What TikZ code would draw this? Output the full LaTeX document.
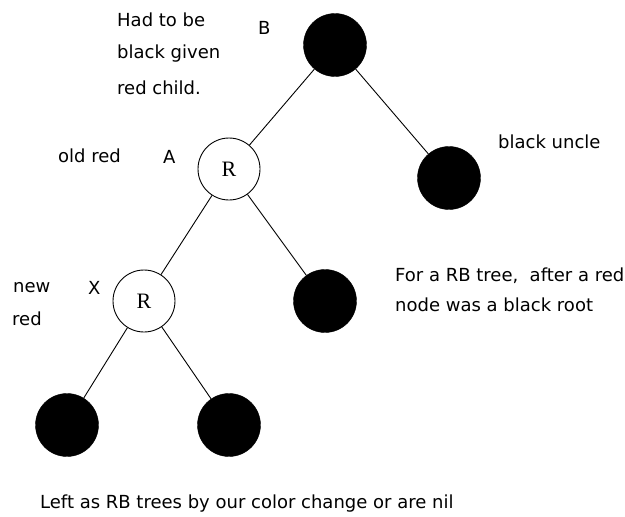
\documentclass[tikz,border=0pt]{standalone}
\usepackage{fontspec}
\setmainfont{DejaVu Sans}
\newfontfamily\rfont{Liberation Serif}
\begin{document}
\begin{tikzpicture}[x=1pt,y=-1pt,
  blacknode/.style={circle,fill=black,draw=black,minimum size=63pt,inner sep=0pt},
  rednode/.style={circle,fill=white,draw=black,line width=0.9pt,minimum size=62pt,inner sep=0pt,font=\rfont\fontsize{22}{24}\selectfont},
  lbl/.style={anchor=west,inner sep=0pt,font=\fontsize{18}{20}\selectfont},
  edge/.style={draw=black,line width=0.9pt}]
\useasboundingbox (0,0) rectangle (625,517);
\node[blacknode] (B) at (335,45) {};
\node[rednode] (A) at (229,169) {R};
\node[blacknode] (U) at (449,178) {};
\node[rednode] (X) at (144,301) {R};
\node[blacknode] (C) at (325,301) {};
\node[blacknode] (L) at (67,425) {};
\node[blacknode] (M) at (229,425) {};
\draw[edge] (B) -- (A);
\draw[edge] (B) -- (U);
\draw[edge] (A) -- (X);
\draw[edge] (A) -- (C);
\draw[edge] (X) -- (L);
\draw[edge] (X) -- (M);
\node[lbl] (t1) at (117,20) {Had to be};
\node[lbl] (t2) at (117,54) {black given};
\node[lbl] (t3) at (117,88) {red child.};
\node[lbl] (tB) at (258,28) {B};
\node[lbl] (t4) at (58,156) {old red};
\node[lbl] (tA) at (163,157) {A};
\node[lbl] (t5) at (498,142) {black uncle};
\node[lbl] (t6) at (13,288) {new};
\node[lbl] (t7) at (12,319) {red};
\node[lbl] (tX) at (88,288) {X};
\node[lbl] (t8) at (395,276) {For a RB tree,\ \ after a red};
\node[lbl] (t9) at (395,305) {node was a black root};
\node[lbl] (t10) at (40,504) {Left as RB trees by our color change or are nil};
\end{tikzpicture}
\end{document}
